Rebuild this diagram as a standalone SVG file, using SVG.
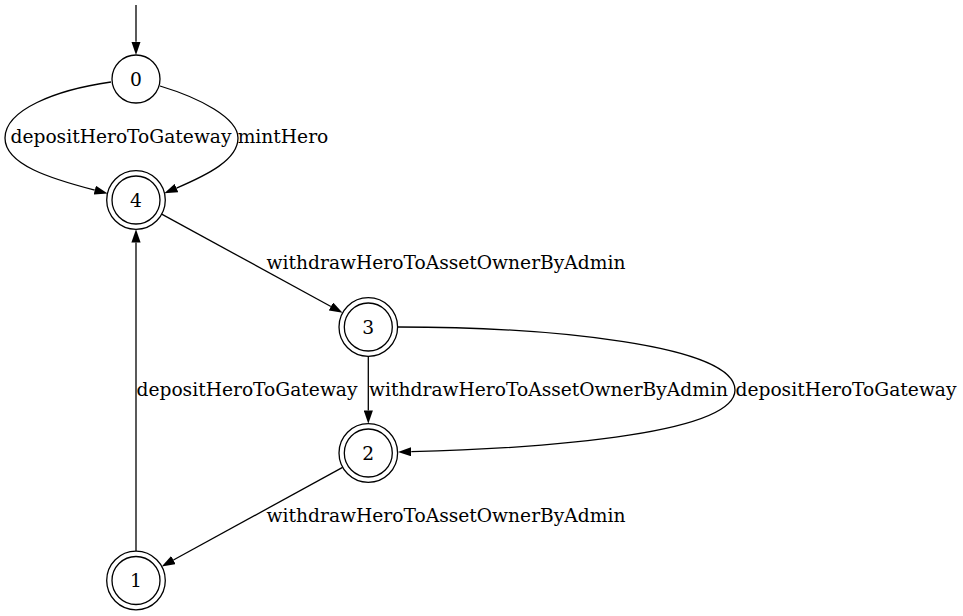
<svg xmlns="http://www.w3.org/2000/svg" width="963" height="616" viewBox="0 0 963 616">
<style>
.n{fill:none;stroke:#000;stroke-width:1.3}
.e{fill:none;stroke:#000;stroke-width:1.3;marker-end:url(#ah)}
text{font-family:"DejaVu Serif",serif;font-size:18.67px;fill:#000;text-anchor:middle}
</style>
<defs>
<marker id="ah" viewBox="0 -4.7 13.3 9.4" refX="0" refY="0" markerWidth="13.3" markerHeight="9.4" markerUnits="userSpaceOnUse" orient="auto">
<path d="M0,-4.6 L13.3,0 L0,4.6 z" fill="#000" stroke="none"/>
</marker>
</defs>
<rect width="963" height="616" fill="#fff"/>
<g id="connectors">
<path class="e" d="M136,5 L136,41.7"/>
<path class="e" d="M111,82 C55,90 5,110 5,138 C5,165 52,179 94.8,190.2"/>
<path class="e" d="M160,86 C200,98 238,118 238,138 C238,160 207,175 176.5,188.1"/>
<path class="e" d="M161.7,214.1 L330.9,306.5"/>
<path class="e" d="M368.3,356 L368.3,410.4"/>
<path class="e" d="M398,327 C550,327 735,345 735,390 C735,432 560,448 411.3,451.7"/>
<path class="e" d="M342.6,467.4 L173.4,560"/>
<path class="e" d="M136,551 L136,242.6"/>
<text x="121" y="142.7">depositHeroToGateway</text>
<text x="283" y="142.7">mintHero</text>
<text x="446" y="269">withdrawHeroToAssetOwnerByAdmin</text>
<text x="247" y="395.5">depositHeroToGateway</text>
<text x="548.5" y="395.5">withdrawHeroToAssetOwnerByAdmin</text>
<text x="846" y="395.5">depositHeroToGateway</text>
<text x="446" y="522">withdrawHeroToAssetOwnerByAdmin</text>
</g>
<g id="node0">
<circle class="n" cx="136" cy="79" r="24"/>
<text x="136" y="85.5">0</text>
</g>
<g id="node4">
<circle class="n" cx="136" cy="200" r="24"/>
<circle class="n" cx="136" cy="200" r="29.3"/>
<text x="136" y="206.5">4</text>
</g>
<g id="node3">
<circle class="n" cx="368.3" cy="327" r="24"/>
<circle class="n" cx="368.3" cy="327" r="29.3"/>
<text x="368.3" y="333.5">3</text>
</g>
<g id="node2">
<circle class="n" cx="368.3" cy="453" r="24"/>
<circle class="n" cx="368.3" cy="453" r="29.3"/>
<text x="368.3" y="459.5">2</text>
</g>
<g id="node1">
<circle class="n" cx="136" cy="580.5" r="24"/>
<circle class="n" cx="136" cy="580.5" r="29.3"/>
<text x="136" y="587">1</text>
</g>
</svg>
